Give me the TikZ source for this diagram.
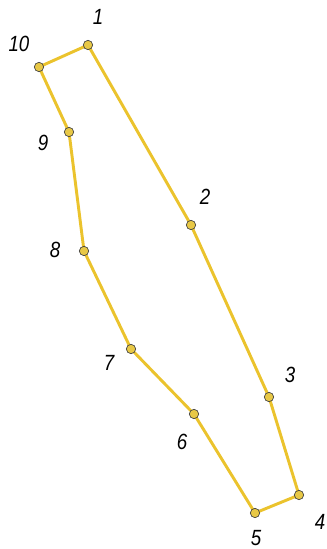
\documentclass[tikz,border=0pt]{standalone}
\usepackage{fontspec}
\setmainfont{Liberation Sans}[FakeStretch=0.85]
\begin{document}
\begin{tikzpicture}[x=0.75pt,y=-0.75pt,
  vert/.style={circle,draw=black!75,line width=0.5pt,fill={rgb,255:red,232;green,200;blue,70},inner sep=0pt,minimum size=7pt},
  edge/.style={draw={rgb,255:red,235;green,195;blue,45},line width=2.2pt},
  lab/.style={font=\fontsize{16.5}{16.5}\selectfont\itshape,inner sep=0pt}]
\useasboundingbox (0,0) rectangle (327,549);
\coordinate (c1) at (88,45);
\coordinate (c2) at (191,225);
\coordinate (c3) at (269,397);
\coordinate (c4) at (299,495);
\coordinate (c5) at (255,513);
\coordinate (c6) at (194,414);
\coordinate (c7) at (131,349);
\coordinate (c8) at (84,251);
\coordinate (c9) at (69,132);
\coordinate (c10) at (39,67);
\draw[edge,line join=round] (c1) -- (c2) -- (c3) -- (c4) -- (c5) -- (c6) -- (c7) -- (c8) -- (c9) -- (c10) -- cycle;
\foreach \i in {1,...,10} {\node[vert] (p\i) at (c\i) {};}
\node[lab] (l1) at (98,17) {1};
\node[lab] (l2) at (205,197) {2};
\node[lab] (l3) at (290,375) {3};
\node[lab] (l4) at (320,522) {4};
\node[lab] (l5) at (256,538) {5};
\node[lab] (l6) at (182,442) {6};
\node[lab] (l7) at (109,363) {7};
\node[lab] (l8) at (55,250) {8};
\node[lab] (l9) at (43,143) {9};
\node[lab] (l10) at (19,44) {10};
\end{tikzpicture}
\end{document}
